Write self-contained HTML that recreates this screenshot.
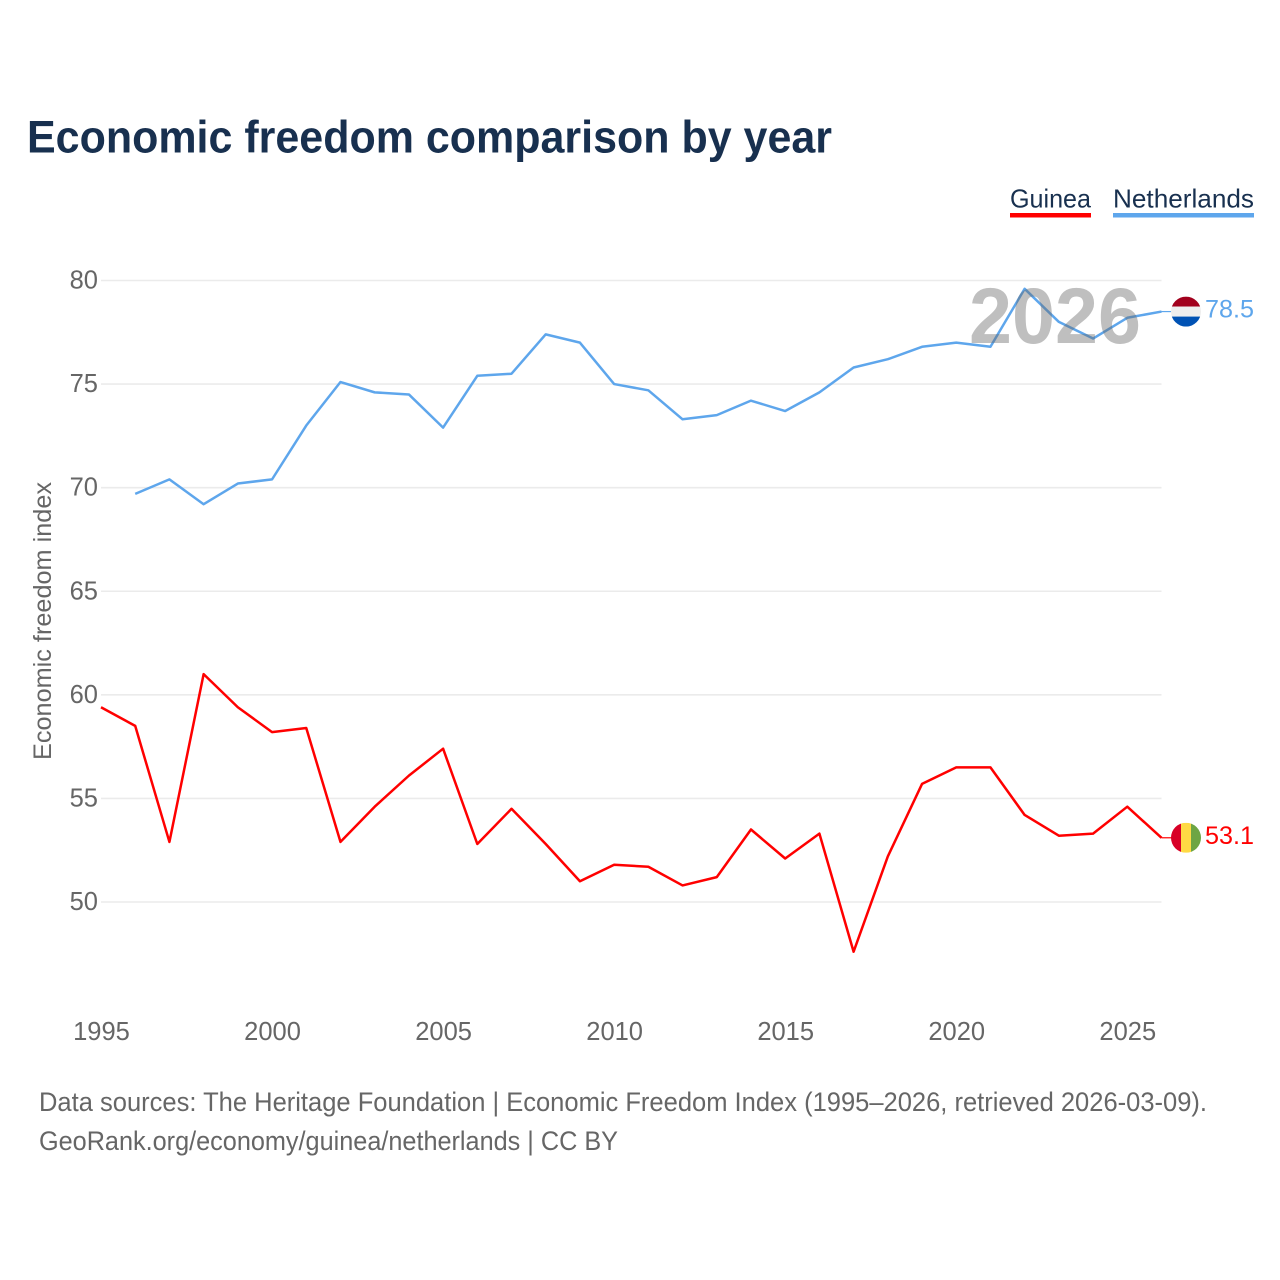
<!DOCTYPE html>
<html lang="en">
<head>
<meta charset="utf-8">
<title>Economic freedom comparison by year</title>
<style>
html,body{margin:0;padding:0;background:#fff;width:1280px;height:1280px;overflow:hidden}
svg{display:block;font-family:"Liberation Sans",Arial,sans-serif}
</style>
</head>
<body>
<svg id="chart" xmlns="http://www.w3.org/2000/svg" width="1280" height="1280" viewBox="0 0 1280 1280">
  <defs>
    <clipPath id="flag-clip-nl"><circle id="clip-nl" cx="1186" cy="311" r="15"/></clipPath>
    <clipPath id="flag-clip-gn"><circle id="clip-gn" cx="1186" cy="837" r="15"/></clipPath>
  </defs>
  <rect width="1280" height="1280" fill="#fff"/>
  <text x="27" y="152.5" font-size="45" font-weight="700" fill="#18304f" textLength="805" lengthAdjust="spacingAndGlyphs">Economic freedom comparison by year</text>

  <g>
    <text x="1010" y="207.5" font-size="26" fill="#18304f" textLength="81" lengthAdjust="spacingAndGlyphs">Guinea</text>
    <rect x="1010" y="213" width="81" height="4.5" fill="#ff0000"/>
  </g>
  <g>
    <text x="1113" y="207.5" font-size="26" fill="#18304f" textLength="141" lengthAdjust="spacingAndGlyphs">Netherlands</text>
    <rect x="1113" y="213" width="141" height="4.5" fill="#5ea6ec"/>
  </g>

  <g id="grid"></g>
  <g id="y-ticks"></g>
  <g id="x-ticks"></g>
  <text transform="translate(51,621) rotate(-90)" text-anchor="middle" font-size="25" fill="#666" textLength="278" lengthAdjust="spacingAndGlyphs">Economic freedom index</text>

  <g id="series"></g>

  <text x="969" y="343" font-size="79" font-weight="700" fill="#666" fill-opacity="0.42" textLength="172" lengthAdjust="spacingAndGlyphs">2026</text>

  <g id="flag-nl" clip-path="url(#flag-clip-nl)">
    <rect x="1171" y="296" width="30" height="10" fill="#a2001d"/>
    <rect x="1171" y="306" width="30" height="10" fill="#eeeeee"/>
    <rect x="1171" y="316" width="30" height="10" fill="#0052b4"/>
  </g>
  <g id="flag-gn" clip-path="url(#flag-clip-gn)">
    <rect x="1171" y="822" width="10" height="30" fill="#d80027"/>
    <rect x="1181" y="822" width="10" height="30" fill="#ffda44"/>
    <rect x="1191" y="822" width="10" height="30" fill="#6da544"/>
  </g>
  <g id="end-labels"></g>

  <text x="39" y="1111" font-size="26.5" fill="#666" textLength="1168" lengthAdjust="spacingAndGlyphs">Data sources: The Heritage Foundation | Economic Freedom Index (1995–2026, retrieved 2026-03-09).</text>
  <text x="39" y="1150" font-size="26.5" fill="#666" textLength="579" lengthAdjust="spacingAndGlyphs">GeoRank.org/economy/guinea/netherlands | CC BY</text>
</svg>
<script>
const years = [1995,1996,1997,1998,1999,2000,2001,2002,2003,2004,2005,2006,2007,2008,2009,2010,2011,2012,2013,2014,2015,2016,2017,2018,2019,2020,2021,2022,2023,2024,2025,2026];
const guineaValues = [59.4,58.5,52.9,61.0,59.4,58.2,58.4,52.9,54.6,56.1,57.4,52.8,54.5,52.8,51.0,51.8,51.7,50.8,51.2,53.5,52.1,53.3,47.6,52.2,55.7,56.5,56.5,54.2,53.2,53.3,54.6,53.1];
const netherlandsValues = [null,69.7,70.4,69.2,70.2,70.4,73.0,75.1,74.6,74.5,72.9,75.4,75.5,77.4,77.0,75.0,74.7,73.3,73.5,74.2,73.7,74.6,75.8,76.2,76.8,77.0,76.8,79.6,78.0,77.2,78.2,78.5];
const yTickLabels = [50,55,60,65,70,75,80];
const xTickLabels = [1995,2000,2005,2010,2015,2020,2025];

const NS = 'http://www.w3.org/2000/svg';
const plotLeft = 101, plotRight = 1161.5, y50 = 902, y80 = 280.5;
function xScale(year) {
  return plotLeft + (year - 1995) * (plotRight - plotLeft) / (2026 - 1995);
}
function yScale(value) {
  return y50 + (value - 50) * (y80 - y50) / (80 - 50);
}
function make(tag, attrs, parent, text) {
  const el = document.createElementNS(NS, tag);
  for (const k in attrs) el.setAttribute(k, attrs[k]);
  if (text !== undefined) el.textContent = text;
  parent.appendChild(el);
  return el;
}

const grid = document.getElementById('grid');
const yTicks = document.getElementById('y-ticks');
yTickLabels.forEach(function (v) {
  const line = make('line', {x1: plotLeft, x2: plotRight, y1: yScale(v), y2: yScale(v), stroke: '#ebebeb', 'stroke-width': 1.6}, grid);
  
  
  const label = make('text', {x: 98, y: yScale(v) + 8, 'text-anchor': 'end', 'font-size': 25.5, fill: '#666'}, yTicks, String(v));
  
  
});

const xTicks = document.getElementById('x-ticks');
xTickLabels.forEach(function (y) {
  const label = make('text', {x: xScale(y) + 0.5, y: 1040, 'text-anchor': 'middle', 'font-size': 25.5, fill: '#666'}, xTicks, String(y));
  
  
});

function linePoints(values) {
  const pts = [];
  values.forEach(function (v, i) {
    if (v !== null) pts.push(xScale(years[i]).toFixed(2) + ',' + yScale(v).toFixed(2));
  });
  return pts.join(' ');
}
const seriesGroup = document.getElementById('series');

const guineaLine = make('polyline', {points: linePoints(guineaValues), fill: 'none', stroke: '#ff0000', 'stroke-width': 2.5, 'stroke-linejoin': 'round'}, seriesGroup);



const netherlandsLine = make('polyline', {points: linePoints(netherlandsValues), fill: 'none', stroke: '#5ea6ec', 'stroke-width': 2.5, 'stroke-linejoin': 'round'}, seriesGroup);



const lastGuinea = guineaValues[guineaValues.length - 1];
const lastNetherlands = netherlandsValues[netherlandsValues.length - 1];

const guineaConnector = make('line', {x1: plotRight, x2: 1172, y1: yScale(lastGuinea), y2: yScale(lastGuinea), stroke: '#ff0000', 'stroke-width': 1.2}, seriesGroup);



const netherlandsConnector = make('line', {x1: plotRight, x2: 1172, y1: yScale(lastNetherlands), y2: yScale(lastNetherlands), stroke: '#5ea6ec', 'stroke-width': 1.2}, seriesGroup);



function placeFlag(groupId, value) {
  const dy = yScale(value) - (groupId === 'flag-nl' ? 311 : 837);
  document.getElementById(groupId).setAttribute('transform', 'translate(0,' + dy.toFixed(2) + ')');
}
placeFlag('flag-nl', lastNetherlands);
placeFlag('flag-gn', lastGuinea);

const endLabels = document.getElementById('end-labels');
const guineaEnd = make('text', {x: 1205, y: yScale(lastGuinea) + 6, 'font-size': 25, fill: '#ff0000', textLength: 49, lengthAdjust: 'spacingAndGlyphs'}, endLabels, lastGuinea.toFixed(1));



const netherlandsEnd = make('text', {x: 1205, y: yScale(lastNetherlands) + 6, 'font-size': 25, fill: '#5ea6ec', textLength: 49, lengthAdjust: 'spacingAndGlyphs'}, endLabels, lastNetherlands.toFixed(1));


</script>
</body>
</html>
